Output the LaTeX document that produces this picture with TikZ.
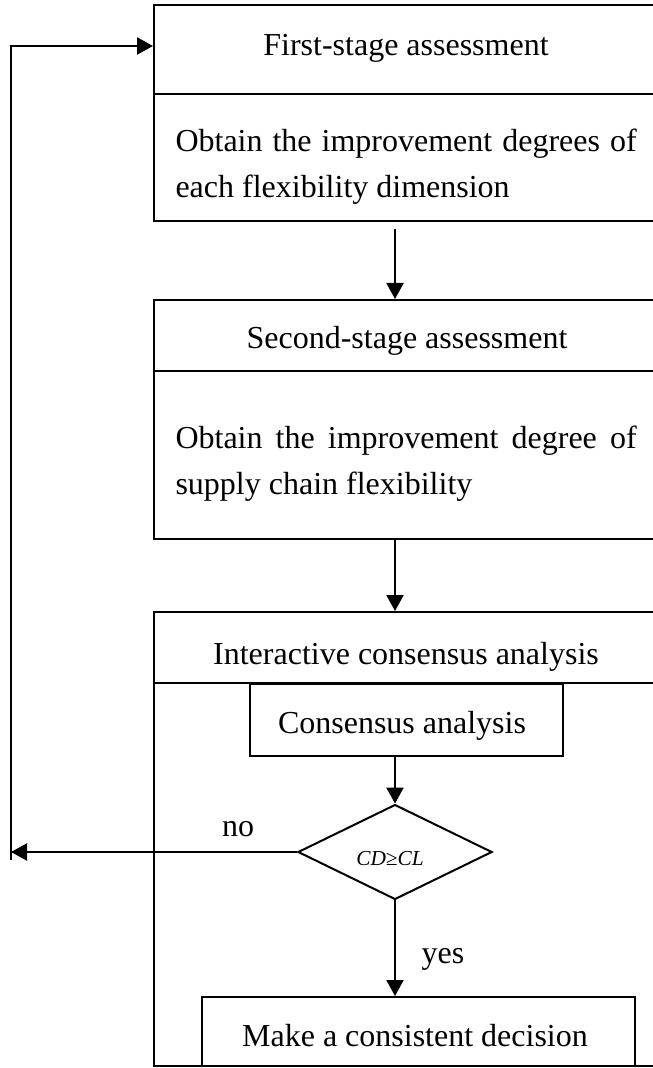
\documentclass[tikz,border=0pt]{standalone}
\usepackage{fontspec}
\setmainfont{Liberation Serif}
\usetikzlibrary{arrows.meta, fit, shapes.geometric}
\tolerance=9999
\hbadness=10000

\begin{document}
\begin{tikzpicture}[
    x=0.375pt, y=-0.375pt,
    blk/.style={draw, line width=0.75pt, inner sep=0pt},
    ttl/.style={inner sep=0pt, anchor=base, font=\fontsize{12}{16.9}\selectfont},
    body/.style={inner sep=0pt, anchor=base west, text width=172.9pt,
                 align=justify, font=\fontsize{12}{16.9}\selectfont},
    dec/.style={diamond, draw, line width=0.75pt, inner sep=0pt,
                minimum width=72.8pt, minimum height=35.6pt},
    cnd/.style={inner sep=0pt, anchor=base, font=\fontsize{8}{9.6}\selectfont\itshape},
    arr/.style={-{Triangle[length=6pt, width=6.4pt]}, line width=0.75pt}
  ]
  \useasboundingbox (0,0) rectangle (652,1068);
  % -- first stage --
  \node[blk, fit={(154,5) (660,94)}] (hdr1) {};
  \node[blk, fit={(154,94) (660,221)}] (bdy1) {};
  \node[ttl] (t1) at (406,56) {First-stage assessment};
  \node[body] (b1) at (175,152)
    {Obtain the improvement degrees of each flexibility dimension};
  % -- second stage --
  \node[blk, fit={(154,300) (660,371)}] (hdr2) {};
  \node[blk, fit={(154,371) (660,539)}] (bdy2) {};
  \node[ttl] (t2) at (407,349) {Second-stage assessment};
  \node[body] (b2) at (175,449)
    {Obtain the improvement degree of supply chain flexibility};
  % -- consensus --
  \node[blk, fit={(154,612) (660,683)}] (hdr3) {};
  \node[blk, fit={(154,683) (660,1066)}] (bdy3) {};
  \node[ttl] (t3) at (406,664) {Interactive consensus analysis};
  \node[blk, fit={(250,684) (563,756)}] (ca) {};
  \node[ttl] (t4) at (402,733) {Consensus analysis};
  \node[dec] (dg) at (395,852) {};
  \node[cnd] (cd) at (390,865) {CD≥CL};
  \node[blk, fit={(202,997) (635,1066)}] (mk) {};
  \node[ttl] (t5) at (415,1046) {Make a consistent decision};
  \node[ttl] (no) at (238,836) {no};
  \node[ttl] (yes) at (443,963) {yes};
  \coordinate (back) at (11,852);
  \coordinate (lp) at (11,860);
  \coordinate (tp) at (11,46);
  % -- connectors --
  \draw[arr, shorten <=2.6pt] (bdy1.south -| dg) -- (hdr2.north -| dg);
  \draw[arr] (bdy2.south -| dg) -- (hdr3.north -| dg);
  \draw[arr] (ca.south -| dg) -- (dg.north);
  \draw[arr] (dg.south) -- (mk.north -| dg);
  \draw[arr] (dg.west) -- (back);
  \draw[arr] (lp) -- (tp) -- (tp -| hdr1.west);
\end{tikzpicture}
\end{document}
